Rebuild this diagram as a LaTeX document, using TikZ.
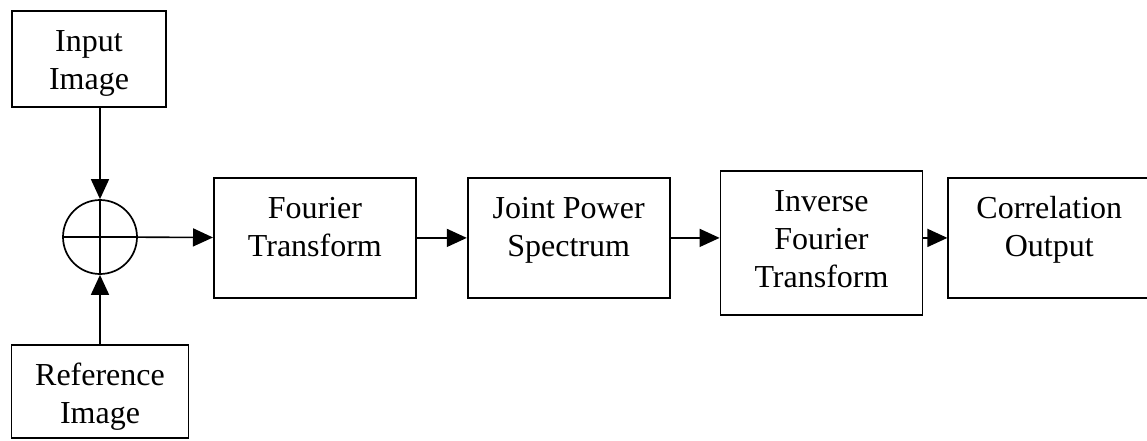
\documentclass[tikz,border=0pt]{standalone}
\usepackage{fontspec}
\setmainfont{Liberation Serif}
\usetikzlibrary{arrows.meta,positioning}
\newcommand{\blocktext}[1]{\begin{tabular}[t]{@{}c@{}}#1\end{tabular}}
\tikzset{
  block/.style={draw, line width=1.8pt, inner xsep=0pt, inner ysep=0pt,
                minimum width=202pt, text height=41pt, text depth=79pt,
                font=\fontsize{32}{38}\selectfont},
  summer/.style={draw, circle, line width=1.7pt, minimum size=74pt, inner sep=0pt},
  flow/.style={-{Triangle[length=20pt,width=18pt]}, line width=1.6pt}
}

\begin{document}
\begin{tikzpicture}[x=1pt,y=1pt]
  \useasboundingbox (0,0) rectangle (1147,-440);
  \node[summer] (sum) at (100,-237) {};
  \draw[line width=1.7pt] (sum.west) -- (sum.east) (sum.north) -- (sum.south);
  \node[block,minimum width=154pt,text depth=55pt,anchor=north] (inp) at (89,-10) {\blocktext{Input\\Image}};
  \node[block,minimum width=177pt,text depth=52pt,anchor=north] (ref) at (100,-344) {\blocktext{Reference\\Image}};
  \node[block,anchor=north west] (ft) at (213,-177) {\blocktext{Fourier\\Transform}};
  \node[block,right=50pt of ft] (jps) {\blocktext{Joint Power\\Spectrum}};
  \node[block,text depth=103pt,right=49pt of jps,yshift=-5pt] (ift) {\blocktext{Inverse\\Fourier\\Transform}};
  \node[block,right=24pt of ift,yshift=5pt] (co) {\blocktext{Correlation\\Output}};
  \draw[flow] (inp.south -| sum) -- (sum.north);
  \draw[flow] (ref) -- (sum);
  \draw[flow] (sum) -- (ft);
  \draw[flow] (ft) -- (jps);
  \draw[flow] (jps.east) -- (jps.east -| ift.west);
  \draw[flow] (co.west -| ift.east) -- (co.west);
\end{tikzpicture}
\end{document}
